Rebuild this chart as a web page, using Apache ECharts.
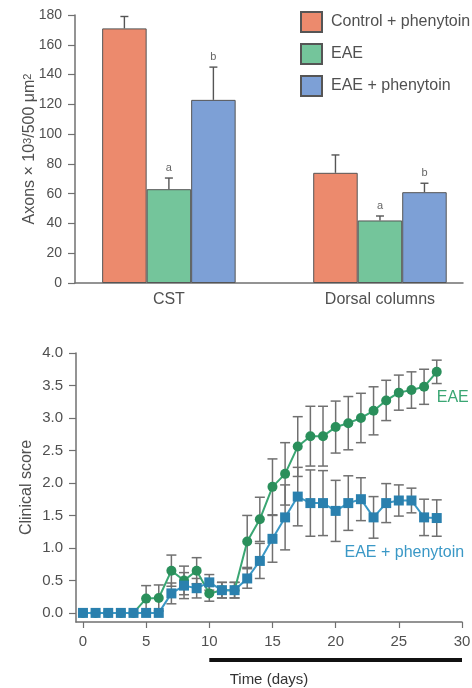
<!DOCTYPE html>
<html><head><meta charset="utf-8">
<script src="https://cdn.jsdelivr.net/npm/echarts@6/dist/echarts.min.js"></script>
<style>html,body{margin:0;padding:0;background:#fff}#c{width:472px;height:688px}</style>
</head><body><div id="c"></div>
<script>
// ---- Top chart data ----
const groups = ['CST', 'Dorsal columns'];
const barSeriesNames = ['Control + phenytoin', 'EAE', 'EAE + phenytoin'];
const controlPhenAxons = [171, 74];
const controlPhenAxonsErr = [8, 12];
const eaeAxons = [63, 42];
const eaeAxonsErr = [7.5, 3];
const eaePhenAxons = [123, 61];
const eaePhenAxonsErr = [22, 6];
const controlPhenLetters = ['', ''];
const eaeLetters = ['a', 'a'];
const eaePhenLetters = ['b', 'b'];
const axonTicks = [0, 20, 40, 60, 80, 100, 120, 140, 160, 180];

// ---- Bottom chart data ----
const days = [0,1,2,3,4,5,6,7,8,9,10,11,12,13,14,15,16,17,18,19,20,21,22,23,24,25,26,27,28];
const eaeScore = [0,0,0,0,0,0.22,0.23,0.65,0.5,0.65,0.3,0.35,0.35,1.1,1.44,1.94,2.14,2.56,2.72,2.72,2.86,2.92,3.0,3.11,3.27,3.39,3.43,3.48,3.71];
const eaeScoreErr = [0,0,0,0,0,0.2,0.2,0.24,0.22,0.2,0.12,0.12,0.12,0.4,0.34,0.43,0.48,0.46,0.46,0.46,0.4,0.41,0.38,0.37,0.31,0.27,0.28,0.27,0.18];
const phenScore = [0,0,0,0,0,0,0,0.3,0.42,0.38,0.47,0.35,0.35,0.53,0.8,1.14,1.47,1.79,1.69,1.69,1.57,1.69,1.75,1.47,1.69,1.73,1.73,1.47,1.46];
const phenScoreErr = [0,0,0,0,0,0,0,0.16,0.2,0.15,0.12,0.12,0.12,0.15,0.27,0.36,0.5,0.45,0.51,0.5,0.47,0.42,0.33,0.32,0.3,0.24,0.19,0.28,0.28];
const lineSeriesNames = ['EAE', 'EAE + phenytoin'];
const dayTicks = [0, 5, 10, 15, 20, 25, 30];
const scoreTicks = [0, 0.5, 1, 1.5, 2, 2.5, 3, 3.5, 4];
const treatmentDays = [10, 30];

// ---- layout / style constants ----
const FONT = '"Liberation Sans", Arial, sans-serif';
const TXT = '#505050';
const AXIS = '#707070';
const groupCenters = [24.2, 78.6];   // positions on the 0..100 band axis
const BAR_W = 44.5;
const barColors = ['#EC8A6D', '#74C59B', '#7DA0D6'];
const greenLine = '#3AA673', greenMark = '#2A8F5B';
const blueLine = '#3A98C6', blueMark = '#2A80AE';
const lineLabelPos = [[28.0, 3.31], [20.7, 0.93]];

const chart = echarts.init(document.getElementById('c'), null, {renderer: 'canvas'});

const barValues = [controlPhenAxons, eaeAxons, eaePhenAxons];
const barErrs = [controlPhenAxonsErr, eaeAxonsErr, eaePhenAxonsErr];
const barLetters = [controlPhenLetters, eaeLetters, eaePhenLetters];

const barSeries = barValues.map((vals, i) => ({
  type: 'bar', name: barSeriesNames[i], xAxisIndex: 0, yAxisIndex: 0,
  data: vals.map((v, g) => [groupCenters[g], v]),
  barWidth: BAR_W, barGap: '0%',
  itemStyle: {color: barColors[i], borderColor: '#555', borderWidth: 1},
  emphasis: {disabled: true}, z: 2
}));

const barErrData = [];
barValues.forEach((vals, s) => vals.forEach((v, g) => barErrData.push([groupCenters[g], v, barErrs[s][g], s, g])));

const barErrSeries = {
  type: 'custom', xAxisIndex: 0, yAxisIndex: 0, z: 3, silent: true,
  data: barErrData,
  renderItem(params, api) {
    const x = api.value(0), y = api.value(1), e = api.value(2), s = api.value(3), g = api.value(4);
    const p0 = api.coord([x, y]), p1 = api.coord([x, y + e]);
    const cx = p0[0] + (s - 1) * BAR_W;
    const st = {stroke: '#555', lineWidth: 1.4};
    const ch = [
      {type: 'line', shape: {x1: cx, y1: p0[1], x2: cx, y2: p1[1]}, style: st},
      {type: 'line', shape: {x1: cx - 4, y1: p1[1], x2: cx + 4, y2: p1[1]}, style: st}
    ];
    const letter = barLetters[s][g];
    if (letter) ch.push({type: 'text', style: {text: letter, x: cx, y: p1[1] - 10, align: 'center', verticalAlign: 'middle', fill: '#666', font: '11px ' + FONT}});
    return {type: 'group', children: ch};
  }
};

function errSeries(vals, errs, z) {
  return {
    type: 'custom', xAxisIndex: 1, yAxisIndex: 1, z: z, silent: true,
    data: days.map((d, i) => [d, vals[i], errs[i]]),
    renderItem(params, api) {
      const d = api.value(0), v = api.value(1), e = api.value(2);
      if (!e) return null;
      const a = api.coord([d, v + e]), b = api.coord([d, v - e]);
      const st = {stroke: '#707070', lineWidth: 1.5};
      return {type: 'group', children: [
        {type: 'line', shape: {x1: a[0], y1: a[1], x2: b[0], y2: b[1]}, style: st},
        {type: 'line', shape: {x1: a[0] - 5, y1: a[1], x2: a[0] + 5, y2: a[1]}, style: st},
        {type: 'line', shape: {x1: b[0] - 5, y1: b[1], x2: b[0] + 5, y2: b[1]}, style: st}
      ]};
    }
  };
}

const lineColors = [greenLine, blueLine];
const lineLabelSeries = {
  type: 'custom', xAxisIndex: 1, yAxisIndex: 1, z: 6, silent: true,
  data: lineLabelPos.map((p, i) => [p[0], p[1], i]),
  renderItem(params, api) {
    const p = api.coord([api.value(0), api.value(1)]);
    const i = api.value(2);
    return {type: 'text', style: {text: lineSeriesNames[i], x: p[0], y: p[1], align: 'left', verticalAlign: 'middle', fill: lineColors[i], font: '16px ' + FONT}};
  }
};

const treatmentSeries = {
  type: 'custom', xAxisIndex: 1, yAxisIndex: 1, z: 6, silent: true, clip: false,
  data: [[treatmentDays[0], treatmentDays[1]]],
  renderItem(params, api) {
    const a = api.coord([api.value(0), 0]), b = api.coord([api.value(1), 0]);
    const y = params.coordSys.y + params.coordSys.height + 38;
    return {type: 'line', shape: {x1: a[0], y1: y, x2: b[0], y2: y}, style: {stroke: '#111', lineWidth: 4}};
  }
};

const axisLineStyle = {lineStyle: {color: AXIS, width: 1.5}};
const tickStyle = {lineStyle: {color: AXIS, width: 1.2}};

const option = {
  backgroundColor: '#fff',
  animation: false,
  textStyle: {fontFamily: FONT},
  legend: {
    data: barSeriesNames, orient: 'vertical', left: 300, top: 11,
    itemWidth: 21, itemHeight: 20, itemGap: 10, icon: 'rect', padding: 0,
    textStyle: {fontSize: 16, color: TXT, fontFamily: FONT, padding: [0, 0, 0, 4]},
    selectedMode: false
  },
  grid: [
    {left: 75, right: 9, top: 15, bottom: 405, containLabel: false, outerBoundsMode: 'none'},
    {left: 76, right: 10, top: 353, bottom: 66, containLabel: false, outerBoundsMode: 'none'}
  ],
  xAxis: [
    {gridIndex: 0, type: 'value', min: 0, max: 100,
      axisLine: {show: true, onZero: false, ...axisLineStyle}, axisTick: {show: false}, splitLine: {show: false},
      axisLabel: {customValues: groupCenters, formatter: v => groups[groupCenters.indexOf(v)] || '', fontSize: 16, color: TXT, margin: 9, fontFamily: FONT}},
    {gridIndex: 1, type: 'value', min: -0.55, max: 30,
      name: 'Time (days)', nameLocation: 'middle', nameGap: 50, nameMoveOverlap: false,
      nameTextStyle: {fontSize: 15, color: '#333', fontFamily: FONT},
      axisLine: {show: true, onZero: false, ...axisLineStyle},
      axisTick: {show: true, customValues: dayTicks, length: 6, inside: false, ...tickStyle},
      splitLine: {show: false},
      axisLabel: {customValues: dayTicks, fontSize: 15, color: TXT, margin: 12, fontFamily: FONT}}
  ],
  yAxis: [
    {gridIndex: 0, type: 'value', min: 0, max: 180, interval: 20,
      name: 'Axons × 10{sup|3}/500 μm{sup|2}', nameLocation: 'middle', nameGap: 37, nameMoveOverlap: false,
      nameTextStyle: {fontSize: 16, color: TXT, fontFamily: FONT,
        rich: {sup: {fontSize: 11, verticalAlign: 'top', color: TXT, fontFamily: FONT, padding: [0, 0, 5, 0]}}},
      axisLine: {show: true, ...axisLineStyle},
      axisTick: {show: true, length: 7, ...tickStyle},
      splitLine: {show: false},
      axisLabel: {fontSize: 14, color: TXT, margin: 13, fontFamily: FONT}},
    {gridIndex: 1, type: 'value', min: -0.14, max: 4,
      name: 'Clinical score', nameLocation: 'middle', nameGap: 41, nameMoveOverlap: false,
      nameTextStyle: {fontSize: 16, color: TXT, fontFamily: FONT},
      axisLine: {show: true, onZero: false, ...axisLineStyle},
      axisTick: {show: true, customValues: scoreTicks, length: 7, ...tickStyle},
      splitLine: {show: false},
      axisLabel: {customValues: scoreTicks, formatter: v => v.toFixed(1), fontSize: 15, color: TXT, margin: 13, fontFamily: FONT}}
  ],
  series: [
    ...barSeries,
    barErrSeries,
    errSeries(eaeScore, eaeScoreErr, 2),
    errSeries(phenScore, phenScoreErr, 2),
    {type: 'line', name: lineSeriesNames[0], xAxisIndex: 1, yAxisIndex: 1, z: 4,
      data: days.map((d, i) => [d, eaeScore[i]]),
      symbol: 'circle', symbolSize: 10, showAllSymbol: true,
      lineStyle: {color: greenLine, width: 2}, itemStyle: {color: greenMark, borderColor: greenMark, borderWidth: 0},
      emphasis: {disabled: true}},
    {type: 'line', name: lineSeriesNames[1], xAxisIndex: 1, yAxisIndex: 1, z: 5,
      data: days.map((d, i) => [d, phenScore[i]]),
      symbol: 'rect', symbolSize: 10, showAllSymbol: true,
      lineStyle: {color: blueLine, width: 2}, itemStyle: {color: blueMark, borderWidth: 0},
      emphasis: {disabled: true}},
    lineLabelSeries,
    treatmentSeries
  ]
};
chart.setOption(option);
</script>
</body></html>
